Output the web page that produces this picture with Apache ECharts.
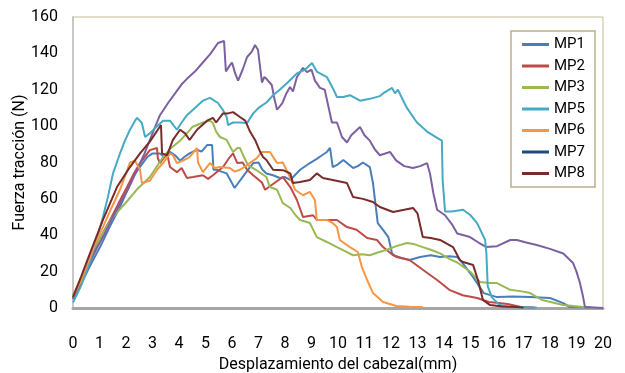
<!DOCTYPE html>
<html>
<head>
<meta charset="utf-8">
<script src="https://cdn.jsdelivr.net/npm/echarts@6/dist/echarts.min.js"></script>
<style>
  html, body { margin: 0; padding: 0; background: #fff; }
  #chart { width: 625px; height: 373px; }
</style>
</head>
<body>
<div id="chart"></div>
<script>
// ensayo de traccion - fuerza vs desplazamiento
const xTicks = [0, 20];
const yTicks = [0, 160];

const mp1 = [[0,5],[0.3,13],[0.6,22],[1.02,33.5],[1.4,45],[1.77,55.5],[2.0,63],[2.26,72],[2.5,77],[2.8,83],[3.0,85],[3.28,85],[3.45,83],[3.66,85.8],[3.85,84],[4.04,81],[4.2,83],[4.4,85],[4.68,87],[4.85,86],[5.06,89.6],[5.25,89.6],[5.3,76],[5.43,76],[5.6,75],[5.8,74],[5.95,70],[6.1,66],[6.25,69],[6.4,72],[6.68,77.5],[6.8,79.7],[7.0,80],[7.15,76],[7.3,74],[7.55,73],[7.8,71.5],[8.0,72],[8.2,70.4],[8.57,76],[8.94,79.7],[9.2,82],[9.4,84],[9.58,85.8],[9.7,88],[9.8,77.5],[10.0,79],[10.2,81.4],[10.4,79],[10.57,77],[10.75,78],[10.94,80],[11.2,77.5],[11.32,68.7],[11.5,46.7],[11.7,43],[11.9,39],[12.04,30],[12.2,28],[12.7,26.4],[13.1,28],[13.5,29],[13.85,28],[14.2,28.5],[14.5,28],[14.7,24.7],[15.1,17],[15.5,8.2],[16,6],[16.6,6.3],[17.25,6],[18,5.5],[18.5,2.7],[18.75,0.5],[19.5,0.3]];
const mp2 = [[0,5],[0.3,14],[0.7,28],[1.0,38],[1.4,48.4],[1.7,57],[2.04,66.5],[2.3,74],[2.53,79.7],[2.9,86.8],[3.17,88],[3.2,82.5],[3.28,79.7],[3.55,85],[3.66,77.5],[3.92,74.7],[4.1,77],[4.3,71.5],[4.53,72],[4.9,73],[5.1,71],[5.28,73],[5.66,77.5],[5.92,83],[6.04,85],[6.2,79.7],[6.4,80],[6.57,76],[6.8,73],[7.13,69],[7.25,65],[7.6,68.7],[7.92,72],[8.2,66.5],[8.45,59.4],[8.68,50],[9.06,51],[9.2,48.4],[9.58,48.4],[9.96,48.4],[10.34,44.5],[10.7,43],[11.1,38.5],[11.47,37.4],[11.7,33.5],[12.08,29],[12.4,27.5],[12.7,26.4],[13.2,21],[13.74,15.4],[14.2,10],[14.7,7],[15.25,5.5],[15.7,3.3],[16.4,2.2],[16.9,0.5],[17.4,0.3]];
const mp3 = [[0,7],[0.3,16],[0.64,28],[1.0,38],[1.5,50],[2.0,58],[2.4,65],[2.9,72],[3.4,83],[3.7,88],[4.04,92],[4.3,96],[4.5,99.5],[4.68,100.6],[4.9,102],[5.17,103],[5.28,101.7],[5.4,97],[5.55,94],[5.8,92.4],[6.04,85.8],[6.2,88],[6.3,88],[6.45,83],[6.6,78.6],[6.9,76],[7.3,72],[7.43,66.5],[7.7,65],[7.92,57.7],[8.2,55],[8.4,51],[8.57,48.4],[8.94,46.7],[9.2,39],[9.58,36.3],[9.96,33.5],[10.3,31],[10.57,29],[10.9,29.5],[11.2,29],[11.5,30.5],[11.85,32],[12.2,34],[12.6,35.7],[12.9,35],[13.2,33.5],[13.5,32],[13.85,30],[14.2,27],[14.5,25],[15,19.8],[15.36,14.3],[15.7,13.8],[16,13.7],[16.5,10],[17.0,9],[17.25,8.2],[17.7,4.4],[18.5,1.6],[19.25,0.5],[19.6,0.3]];
const mp4 = [[0,5],[0.3,14],[0.6,24],[0.9,33],[1.2,41],[1.5,50],[1.8,58],[2.1,66],[2.42,76],[2.7,85],[3.0,96],[3.28,106],[3.6,113],[3.9,119],[4.1,123],[4.3,126],[4.6,130],[4.9,135],[5.2,140],[5.47,145.7],[5.7,146.8],[5.77,130],[5.9,133],[6.0,135],[6.12,129],[6.23,125],[6.4,131],[6.57,138],[6.75,141],[6.87,144.6],[6.98,142],[7.13,124],[7.22,127],[7.3,126],[7.5,122.6],[7.6,115],[7.7,109],[7.9,112.7],[8.05,118],[8.19,121.5],[8.3,119],[8.45,127],[8.68,132],[8.83,129.7],[9.0,131],[9.13,125],[9.32,121],[9.5,120],[9.65,110],[9.77,102],[9.96,102],[10.15,94],[10.34,91],[10.5,95],[10.83,99.5],[11.0,95],[11.2,92],[11.4,87],[11.58,84],[11.96,85.8],[12.2,81],[12.5,78],[12.83,77],[13.1,78],[13.36,79.7],[13.47,74],[13.6,63],[13.74,54],[14.04,51],[14.3,46],[14.5,41],[14.98,39],[15.3,36],[15.6,33.5],[16.0,34],[16.5,37.4],[16.75,37.4],[17.1,36],[17.5,34.6],[18.0,32.5],[18.5,30],[18.87,24.7],[19.0,20],[19.13,13.7],[19.25,6],[19.32,0.5],[20,0]];
const mp5 = [[0,3],[0.3,12],[0.6,24],[0.9,38],[1.13,50],[1.3,60],[1.51,74],[1.75,84],[1.96,92],[2.15,98],[2.34,103],[2.42,104.5],[2.6,101.7],[2.72,94],[2.9,96],[3.1,99],[3.4,103],[3.66,103],[3.92,98],[4.1,102],[4.3,106],[4.6,110],[4.9,114],[5.17,115.5],[5.47,112.7],[5.65,109],[5.8,105],[5.85,100.6],[6.04,102],[6.3,102],[6.57,101.7],[6.8,107],[7.0,110],[7.3,113],[7.55,117],[7.8,120],[8.1,124],[8.45,129],[8.75,131],[9.02,134.7],[9.2,130],[9.58,127],[9.8,121],[9.96,116],[10.2,116],[10.45,117],[10.83,114],[11.2,115],[11.58,116.5],[11.7,118],[12.04,121],[12.15,118],[12.26,120],[12.6,110],[12.98,102],[13.36,97],[13.74,93.5],[13.92,92],[13.95,70],[14.04,53],[14.3,53],[14.72,54],[15.0,51],[15.25,46.7],[15.55,37.5],[15.6,30],[15.65,12],[15.8,6],[16.1,1.6],[16.5,0.5],[17.5,0.3]];
const mp6 = [[0,6],[0.3,15],[0.6,26],[0.85,36],[1.13,44.5],[1.45,55],[1.77,65],[2.0,74],[2.15,80],[2.34,81],[2.53,76],[2.6,68.7],[2.9,70],[3.17,76],[3.4,79.7],[3.66,85],[3.77,84],[3.92,79.7],[4.15,81],[4.4,83],[4.68,88],[4.72,80],[4.9,74.7],[5.17,79.7],[5.35,77],[5.55,77.5],[5.92,77],[6.1,75],[6.3,76],[6.57,78.6],[6.8,81],[6.94,82.5],[7.13,85.8],[7.43,85.8],[7.6,82],[7.7,79.7],[7.92,80],[8.05,76],[8.2,71.5],[8.38,65],[8.68,62],[8.94,63.8],[9.13,59.4],[9.2,48.4],[9.58,48.4],[9.8,46.7],[9.96,44.5],[10.07,37.4],[10.45,33.5],[10.75,30.8],[10.9,22.5],[11.1,15.4],[11.32,8.2],[11.7,3.3],[12.2,1.1],[12.7,0.7],[13.2,0.5]];
const mp7 = [];
const mp8 = [[0,6],[0.3,17],[0.64,30],[1.13,48.4],[1.66,66.5],[2.15,77.5],[2.53,85],[2.9,91.5],[3.2,98],[3.32,100.6],[3.36,85],[3.55,84],[3.77,92.4],[4.04,98],[4.23,96],[4.4,92.4],[4.68,98],[5.06,103],[5.28,104.5],[5.4,102],[5.66,107],[5.85,107],[6.04,107.7],[6.3,105],[6.5,103],[6.68,97],[6.87,92.4],[7.06,86],[7.17,83],[7.3,81.4],[7.55,76],[7.92,75.8],[8.2,74],[8.3,68.7],[8.57,69.3],[8.94,70.4],[9.2,74],[9.43,71.5],[9.8,70.4],[10.34,68.7],[10.57,61],[10.94,60],[11.32,58.3],[11.58,55.5],[12.08,52.8],[12.5,54],[12.83,55],[13.0,52],[13.2,39],[13.5,38.5],[13.85,37.4],[14.34,33.5],[14.6,26.4],[14.72,25.3],[15.1,23.6],[15.28,15.4],[15.47,4.4],[15.74,1.6],[16.2,0.8],[16.75,0.5],[17,0.3]];

const names = ['MP1', 'MP2', 'MP3', 'MP4', 'MP5', 'MP6', 'MP7', 'MP8'];
const colors = ['#4a7ebb', '#be4b48', '#98b954', '#7d60a0', '#46aac5', '#f79646', '#1f497d', '#772c2a'];
const datasets = [mp1, mp2, mp3, mp4, mp5, mp6, mp7, mp8];
const legendNames = ['MP1', 'MP2', 'MP3', 'MP5', 'MP6', 'MP7', 'MP8'];

const font = "'Liberation Sans Narrow', 'Roboto', sans-serif";

let myChart = echarts.init(document.getElementById('chart'));
let option = {
    animation: false,
    textStyle: { fontFamily: font },
    grid: {
        left: 73, right: 22, top: 17, bottom: 65,
        outerBoundsMode: 'none',
        show: true, borderColor: '#c4bd97', borderWidth: 1
    },
    legend: {
        data: legendNames.map(n => ({ name: n, icon: 'rect' })),
        orient: 'vertical',
        left: 511, top: 31,
        itemWidth: 27, itemHeight: 3, itemGap: 4.5,
        padding: [5, 10, 5, 11],
        borderColor: '#b9b08a', borderWidth: 1.5,
        textStyle: { fontFamily: font, fontSize: 15, color: '#000', lineHeight: 17 }
    },
    xAxis: {
        type: 'value', min: xTicks[0], max: xTicks[1], interval: 1,
        name: 'Desplazamiento del cabezal(mm)', nameLocation: 'middle', nameGap: 49,
        nameTextStyle: { fontFamily: font, fontSize: 16, color: '#000' },
        axisLine: { lineStyle: { color: '#a6a6a6', width: 3 } },
        axisTick: { show: false },
        splitLine: { show: false },
        axisLabel: { color: '#000', fontSize: 16, margin: 28 }
    },
    yAxis: {
        type: 'value', min: yTicks[0], max: yTicks[1], interval: 20,
        name: 'Fuerza tracción (N)', nameLocation: 'middle', nameGap: 45,
        nameMoveOverlap: false,
        nameTextStyle: { fontFamily: font, fontSize: 16, color: '#000' },
        axisLine: { show: true, lineStyle: { color: '#c8c8c8', width: 2 } },
        axisTick: { show: false },
        splitLine: { show: false },
        axisLabel: { color: '#000', fontSize: 16, margin: 15 }
    },
    series: names.map((n, i) => ({
        name: n,
        type: 'line',
        data: datasets[i],
        symbol: 'none',
        color: colors[i],
        lineStyle: { width: n === 'MP7' ? 3 : 2, color: colors[i] }
    }))
};
option && myChart.setOption(option);
</script>
</body>
</html>
